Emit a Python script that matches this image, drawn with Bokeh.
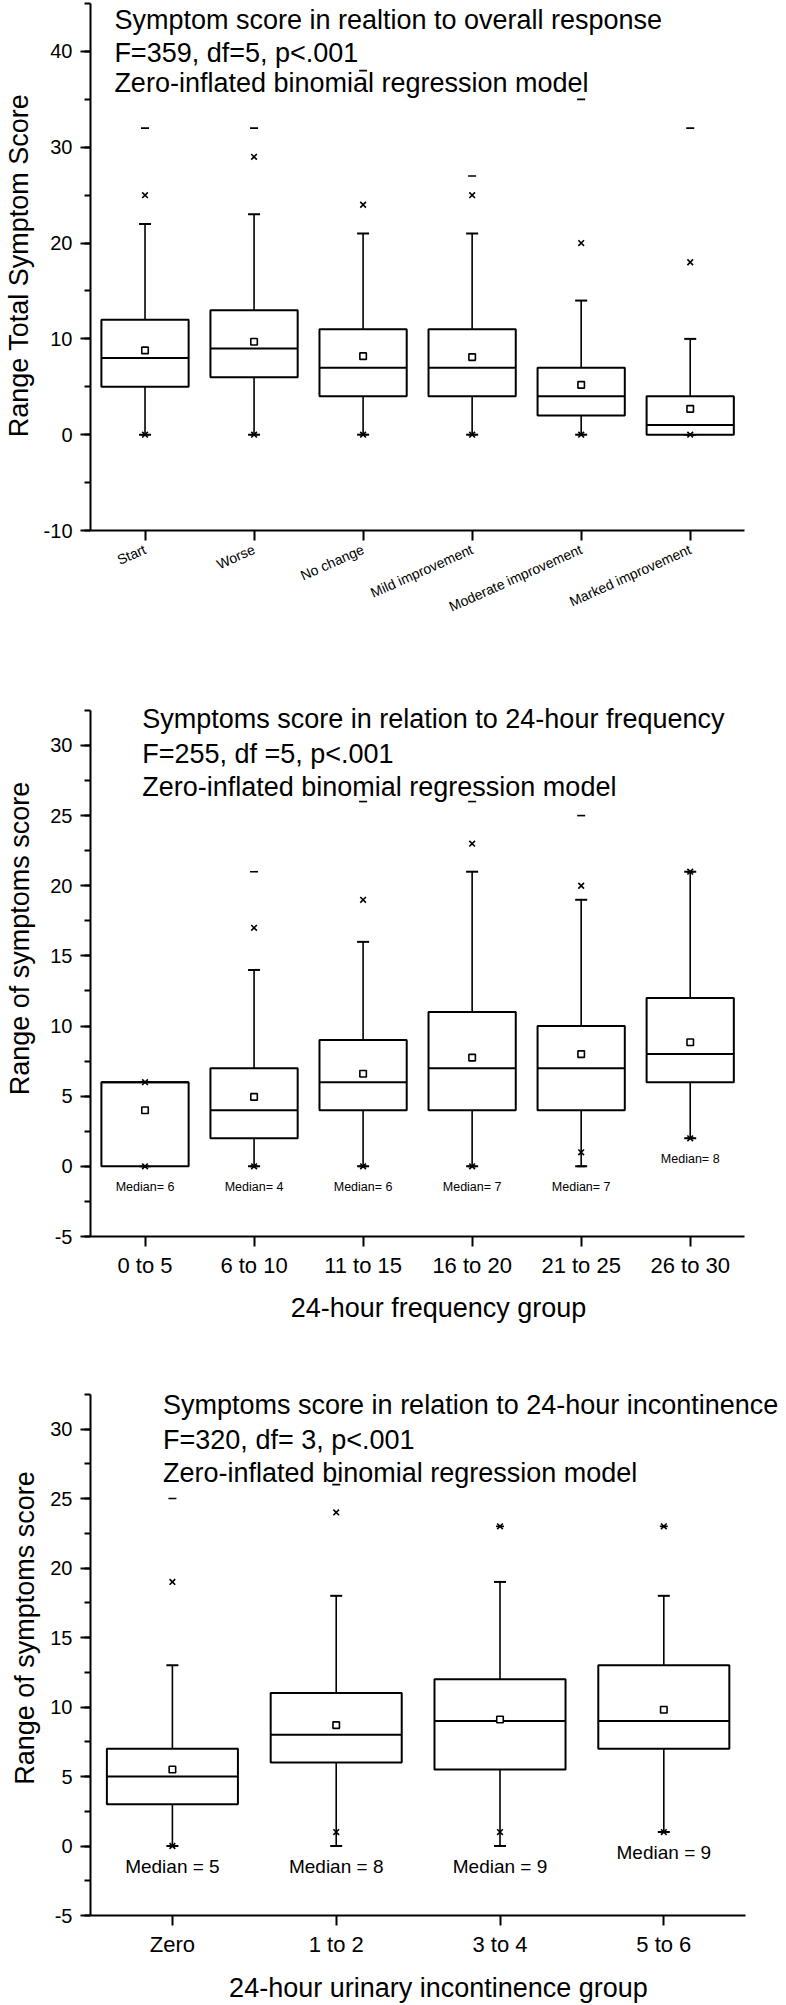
import numpy as np
from bokeh.plotting import figure
from bokeh.models import Range1d, SingleIntervalTicker, FixedTicker, Label, ColumnDataSource
from bokeh.layouts import column
from bokeh.embed import file_html
from bokeh.resources import INLINE
from bokeh.core.properties import value

# ---------------- Panel 1 data: overall response ----------------
resp_cats = ["Start", "Worse", "No change", "Mild improvement",
             "Moderate improvement", "Marked improvement"]
resp_q1 = [5, 6, 4, 4, 2, 0]
resp_med = [8, 9, 7, 7, 4, 1]
resp_q3 = [12, 13, 11, 11, 7, 4]
resp_lo = [0, 0, 0, 0, 0, 0]
resp_hi = [22, 23, 21, 21, 14, 10]
resp_mean = [8.8, 9.7, 8.2, 8.1, 5.2, 2.7]
resp_p1 = [0, 0, 0, 0, 0, 0]
resp_p99 = [25, 29, 24, 25, 20, 18]
resp_min = [0, 0, 0, 0, 0, 0]
resp_max = [32, 32, 38, 27, 35, 32]
resp_title = ["Symptom score in realtion to overall response",
              "F=359, df=5, p<.001",
              "Zero-inflated binomial regression model"]
resp_ylabel = "Range Total Symptom Score"

# ---------------- Panel 2 data: 24-hour frequency ----------------
freq_cats = ["0 to 5", "6 to 10", "11 to 15", "16 to 20", "21 to 25", "26 to 30"]
freq_q1 = [0, 2, 4, 4, 4, 6]
freq_med = [6, 4, 6, 7, 7, 8]
freq_q3 = [6, 7, 9, 11, 10, 12]
freq_lo = [0, 0, 0, 0, 0, 2]
freq_hi = [6, 14, 16, 21, 19, 21]
freq_mean = [4.0, 4.95, 6.6, 7.75, 8.0, 8.85]
freq_p1 = [0, 0, 0, 0, 1, 2]
freq_p99 = [6, 17, 19, 23, 20, 21]
freq_min = [0, 0, 0, 0, 0, 2]
freq_max = [6, 21, 26, 26, 25, 21]
freq_median_text = ["Median= 6", "Median= 4", "Median= 6", "Median= 7", "Median= 7", "Median= 8"]
freq_title = ["Symptoms score in relation to 24-hour frequency",
              "F=255, df =5, p<.001",
              "Zero-inflated binomial regression model"]
freq_ylabel = "Range of symptoms score"
freq_xlabel = "24-hour frequency group"

# ---------------- Panel 3 data: 24-hour incontinence ----------------
inc_cats = ["Zero", "1 to 2", "3 to 4", "5 to 6"]
inc_q1 = [3, 6, 5.5, 7]
inc_med = [5, 8, 9, 9]
inc_q3 = [7, 11, 12, 13]
inc_lo = [0, 0, 0, 1]
inc_hi = [13, 18, 19, 18]
inc_mean = [5.5, 8.7, 9.1, 9.8]
inc_p1 = [0, 1, 1, 1]
inc_p99 = [19, 24, 23, 23]
inc_min = [0, 0, 0, 1]
inc_max = [25, 26, 23, 23]
inc_median_text = ["Median = 5", "Median = 8", "Median = 9", "Median = 9"]
inc_title = ["Symptoms score in relation to 24-hour incontinence",
             "F=320, df= 3, p<.001",
             "Zero-inflated binomial regression model"]
inc_ylabel = "Range of symptoms score"
inc_xlabel = "24-hour urinary incontinence group"

FONT = "Liberation Sans"
BOX_W = 0.8


def box_panel(cats, q1, med, q3, lo, hi, mean, p1, p99, mn, mx,
              x_end, y0, y1, ybounds, interval, height, b_bottom):
    n = len(cats)
    xs = list(range(1, n + 1))
    p = figure(x_range=Range1d(0.5, x_end), y_range=Range1d(y0, y1),
               width=786, height=height, output_backend="svg",
               toolbar_location=None, min_border_left=86,
               min_border_right=0, min_border_top=0,
               min_border_bottom=b_bottom)
    p.outline_line_color = None
    p.grid.visible = False
    src = ColumnDataSource(dict(x=xs, q1=q1, med=med, q3=q3, lo=lo, hi=hi,
                                mean=mean, p1=p1, p99=p99, mn=mn, mx=mx,
                                xl=[x - BOX_W / 2 for x in xs],
                                xr=[x + BOX_W / 2 for x in xs]))
    # whiskers with caps
    p.segment(x0="x", y0="q3", x1="x", y1="hi", source=src, line_color="black", line_width=1.6)
    p.segment(x0="x", y0="q1", x1="x", y1="lo", source=src, line_color="black", line_width=1.6)
    p.scatter(x="x", y="hi", source=src, marker="dash", size=12, line_color="black", line_width=2)
    p.scatter(x="x", y="lo", source=src, marker="dash", size=12, line_color="black", line_width=2)
    # box + median
    p.vbar(x="x", width=BOX_W, bottom="q1", top="q3", source=src,
           fill_color="white", line_color="black", line_width=2)
    p.segment(x0="xl", y0="med", x1="xr", y1="med", source=src,
              line_color="black", line_width=2)
    # mean, 1st/99th percentile, min/max
    p.scatter(x="x", y="mean", source=src, marker="square", size=6.5,
              fill_color="white", line_color="black", line_width=1.6)
    p.scatter(x="x", y="p99", source=src, marker="x", size=8, line_color="black", line_width=1.6)
    p.scatter(x="x", y="p1", source=src, marker="x", size=8, line_color="black", line_width=1.6)
    p.scatter(x="x", y="mx", source=src, marker="dash", size=8, line_color="black", line_width=1.6)
    p.scatter(x="x", y="mn", source=src, marker="dash", size=8, line_color="black", line_width=1.6)

    for ax in (p.xaxis[0], p.yaxis[0]):
        ax.axis_line_width = 2
        ax.major_tick_line_width = 2
        ax.minor_tick_line_width = 2
        ax.major_tick_out = 10
        ax.major_tick_in = 0
        ax.minor_tick_out = 6
        ax.minor_tick_in = 0
        ax.major_label_text_color = "black"
        ax.axis_line_color = "black"
        ax.major_tick_line_color = "black"
        ax.minor_tick_line_color = "black"
        ax.major_label_text_font = FONT
        ax.axis_label_text_font = FONT
        ax.axis_label_text_font_style = "normal"
        ax.axis_label_text_font_size = "27px"
        ax.axis_label_text_color = "black"
    p.yaxis.ticker = SingleIntervalTicker(interval=interval, num_minor_ticks=2)
    p.yaxis.bounds = ybounds
    p.yaxis.major_label_overrides = {y0: "-%d" % abs(y0)}
    p.yaxis.major_label_text_font_size = "20px"
    p.yaxis.major_label_standoff = 8
    p.xaxis.ticker = FixedTicker(ticks=xs, minor_ticks=[])
    p.xaxis.major_label_overrides = {x: c for x, c in zip(xs, cats)}
    p.xaxis.bounds = (0.5, n + 0.5)
    p.xaxis.major_label_text_font_size = "22px"
    p.xaxis.major_label_standoff = 6
    return p


def add_title(p, x, ys, lines, size="27px"):
    for t, yy in zip(lines, ys):
        p.add_layout(Label(x=x, y=yy, text=t, text_font=FONT, text_font_size=size,
                           text_baseline="middle", text_align="left",
                           text_color="black"))


# ---------------- Panel 1 ----------------
p1 = box_panel(resp_cats, resp_q1, resp_med, resp_q3, resp_lo, resp_hi, resp_mean,
               resp_p1, resp_p99, resp_min, resp_max,
               6.883, -10, 45.32, (-10, 45), 10, 640, 110)
p1.xaxis.major_label_orientation = 0.42
p1.xaxis.major_label_text_font_size = "14px"
p1.xaxis.major_label_standoff = 8
p1.yaxis.axis_label = resp_ylabel
p1.yaxis.axis_label_standoff = 7
add_title(p1, 0.719, [43.24, 39.89, 36.66], resp_title)

# ---------------- Panel 2 ----------------
p2 = box_panel(freq_cats, freq_q1, freq_med, freq_q3, freq_lo, freq_hi, freq_mean,
               freq_p1, freq_p99, freq_min, freq_max,
               6.883, -5, 37.48, (-5, 32.5), 5, 700, 104)
p2.yaxis.axis_label = freq_ylabel
p2.yaxis.axis_label_standoff = 12
p2.xaxis.axis_label = freq_xlabel
p2.xaxis.axis_label_standoff = 12
p2.text(x=list(range(1, len(freq_cats) + 1)), y=list(np.array(freq_lo) - 1.45),
        text=freq_median_text, text_font=value(FONT), text_font_size="12.5px",
        text_align="center", text_baseline="middle", text_color="black")
add_title(p2, 0.974, [31.91, 29.42, 27.04], freq_title)

# ---------------- Panel 3 ----------------
p3 = box_panel(inc_cats, inc_q1, inc_med, inc_q3, inc_lo, inc_hi, inc_mean,
               inc_p1, inc_p99, inc_min, inc_max,
               4.749, -5, 36.37, (-5, 32.5), 5, 665, 87)
p3.yaxis.axis_label = inc_ylabel
p3.yaxis.axis_label_standoff = 7
p3.xaxis.axis_label = inc_xlabel
p3.xaxis.axis_label_standoff = 13
p3.text(x=list(range(1, len(inc_cats) + 1)), y=list(np.array(inc_lo) - 1.5),
        text=inc_median_text, text_font=value(FONT), text_font_size="19px",
        text_align="center", text_baseline="middle", text_color="black")
add_title(p3, 0.943, [31.72, 29.24, 26.82], inc_title)

layout = column(p1, p2, p3, spacing=0)
open("out.html", "w").write(file_html(layout, INLINE))
